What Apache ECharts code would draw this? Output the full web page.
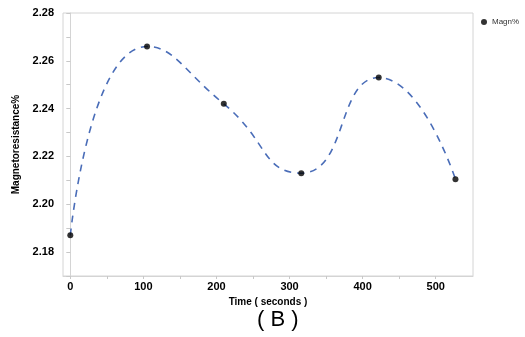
<!DOCTYPE html>
<html>
<head>
<meta charset="utf-8">
<script src="https://cdn.jsdelivr.net/npm/echarts@6/dist/echarts.min.js"></script>
<style>html,body{margin:0;padding:0;background:#fff;}#c{width:525px;height:337px;}</style>
</head>
<body>
<div id="c"></div>
<script>
var timeSeconds = [0, 105, 210, 316, 422, 527];
var magnPercent = [2.187, 2.266, 2.242, 2.213, 2.253, 2.2105];
var yTickLabels = [2.18, 2.20, 2.22, 2.24, 2.26, 2.28];
var yTicks = [2.17, 2.18, 2.19, 2.20, 2.21, 2.22, 2.23, 2.24, 2.25, 2.26, 2.27, 2.28];
var xTickLabels = [0, 100, 200, 300, 400, 500];
var xTicks = [0, 50, 100, 150, 200, 250, 300, 350, 400, 450, 500];

var pts = timeSeconds.map(function (t, i) { return [t, magnPercent[i]]; });
var font = 'Liberation Sans, Arial, sans-serif';
var chart = echarts.init(document.getElementById('c'));
chart.setOption({
  animation: false,
  textStyle: { fontFamily: font },
  grid: { left: 63, top: 13, right: 52, bottom: 61, show: true, borderColor: '#d4d4d4', borderWidth: 1 },
  legend: {
    data: [{ name: 'Magn%', icon: 'circle' }],
    left: 476, top: 13, itemWidth: 6, itemHeight: 6, itemGap: 4,
    textStyle: { fontSize: 8, color: '#333', fontFamily: font }
  },
  xAxis: {
    type: 'value', min: -10, max: 551,
    name: 'Time ( seconds )', nameLocation: 'middle', nameGap: 18,
    nameTextStyle: { fontSize: 10, fontWeight: 'bold', color: '#000', fontFamily: font },
    axisLine: { lineStyle: { color: '#d4d4d4', width: 1 } },
    axisTick: { show: true, length: 3, customValues: xTicks, lineStyle: { color: '#c8c8c8' } },
    axisLabel: { customValues: xTickLabels, fontSize: 11, fontWeight: 'bold', color: '#000', margin: 5, fontFamily: font },
    splitLine: { show: false }
  },
  yAxis: {
    type: 'value', min: 2.17, max: 2.28,
    name: 'Magnetoresistance%', nameLocation: 'middle', nameGap: 41, nameRotate: 90,
    nameTextStyle: { fontSize: 10, fontWeight: 'bold', color: '#000', fontFamily: font },
    axisLine: { show: true, lineStyle: { color: '#d4d4d4', width: 1 } },
    axisTick: { show: true, length: 4, customValues: yTicks, lineStyle: { color: '#c8c8c8' } },
    axisLabel: { customValues: yTickLabels, fontSize: 11, fontWeight: 'bold', color: '#000', margin: 9, fontFamily: font,
      formatter: function (v) { return v.toFixed(2); } },
    splitLine: { show: false }
  },
  series: [
    {
      name: 'fit', type: 'line', data: pts, smooth: 0.55, symbol: 'none',
      lineStyle: { color: '#4a6db8', width: 1.6, type: [7, 6] }, z: 2
    },
    {
      name: 'Magn%', type: 'scatter', data: pts, symbol: 'circle', symbolSize: 6,
      itemStyle: { color: '#000' }, z: 3
    }
  ],
  graphic: [{
    type: 'text', left: 257, top: 309,
    style: { text: '( B )', fontSize: 22, fill: '#000', fontFamily: font }
  }]
});
</script>
</body>
</html>
